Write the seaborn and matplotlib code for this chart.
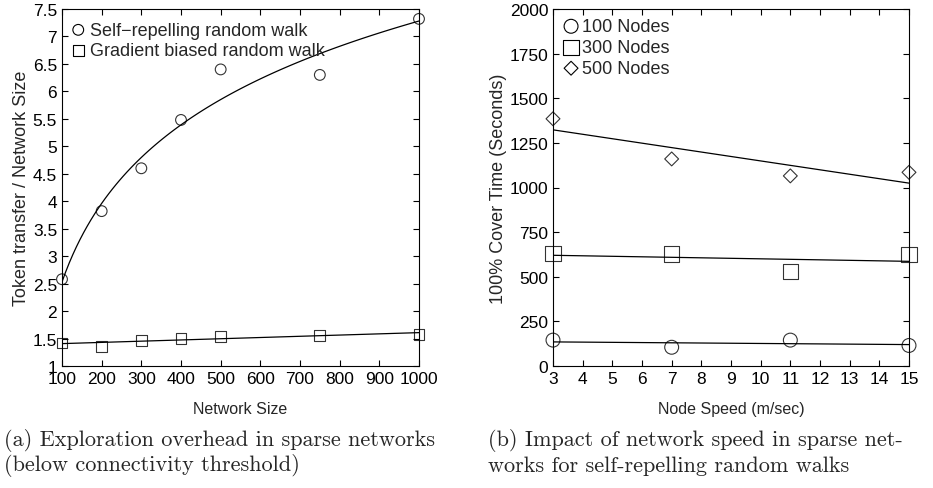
import numpy as np
import pandas as pd
import matplotlib
matplotlib.use("Agg")
import matplotlib.pyplot as plt
import seaborn as sns
from matplotlib.ticker import MultipleLocator

# ---- data (a) ----
net_size = [100, 200, 300, 400, 500, 750, 1000]
self_repelling = [2.58, 3.82, 4.60, 5.48, 6.40, 6.30, 7.32]
gradient_biased = [1.42, 1.36, 1.46, 1.50, 1.54, 1.56, 1.58]

# ---- data (b) ----
node_speed = [3, 7, 11, 15]
nodes_100 = [145, 105, 145, 115]
nodes_300 = [630, 628, 530, 625]
nodes_500 = [1385, 1160, 1065, 1085]

sns.set_style("ticks")
plt.rcParams['font.family'] = ['Liberation Sans', 'DejaVu Sans']
plt.rcParams['axes.linewidth'] = 0.8
plt.rcParams['xtick.direction'] = 'in'
plt.rcParams['ytick.direction'] = 'in'
plt.rcParams['xtick.top'] = True
plt.rcParams['ytick.right'] = True

fig = plt.figure(figsize=(9.33, 4.89), dpi=100)
ax1 = fig.add_axes([62/933, 1-367/489, 357/933, 357/489])
ax2 = fig.add_axes([553/933, 1-367/489, 356/933, 357/489])

dfa = pd.DataFrame({"size": net_size, "srw": self_repelling, "gbw": gradient_biased})
mk = dict(facecolors='none', edgecolors='black', linewidths=0.8, s=60, zorder=3, clip_on=False)
lk = dict(color='black', linewidth=0.9)

sns.regplot(data=dfa, x="size", y="srw", logx=True, ci=None, ax=ax1,
            marker='o', scatter_kws=mk, line_kws=lk)
sns.regplot(data=dfa, x="size", y="gbw", ci=None, ax=ax1,
            marker='s', scatter_kws=mk, line_kws=lk)

ax1.set_xlim(100, 1000)
ax1.set_ylim(1, 7.5)
ax1.set_xticks(np.arange(100, 1001, 100))
ax1.yaxis.set_major_locator(MultipleLocator(0.5))
ax1.yaxis.set_major_formatter(plt.FuncFormatter(lambda v, p: f"{v:g}"))
ax1.set_xlabel("Network Size", fontsize=11.5, labelpad=11)
ax1.set_ylabel("Token transfer / Network Size", fontsize=13, labelpad=2)

h1 = ax1.scatter([], [], marker='o', facecolors='none', edgecolors='black', s=60, linewidths=0.8)
h2 = ax1.scatter([], [], marker='s', facecolors='none', edgecolors='black', s=60, linewidths=0.8)
ax1.legend([h1, h2], ["Self\u2212repelling random walk", "Gradient biased random walk"],
           loc='upper left', frameon=False, fontsize=13, handletextpad=0.15,
           borderaxespad=0.0, labelspacing=0.2, handlelength=1.0,
           bbox_to_anchor=(0.0, 0.985))

dfb = pd.DataFrame({"speed": node_speed, "n100": nodes_100, "n300": nodes_300, "n500": nodes_500})
specs = [("n100", 'o', 100), ("n300", 's', 120), ("n500", 'D', 50)]
for col, m, s in specs:
    kw = dict(mk); kw['s'] = s
    sns.regplot(data=dfb, x="speed", y=col, ci=None, ax=ax2, marker=m,
                scatter_kws=kw, line_kws=lk)

ax2.set_xlim(3, 15)
ax2.set_ylim(0, 2000)
ax2.set_xticks(np.arange(3, 16, 1))
ax2.yaxis.set_major_locator(MultipleLocator(250))
ax2.set_xlabel("Node Speed (m/sec)", fontsize=11.5, labelpad=11)
ax2.set_ylabel("100% Cover Time (Seconds)", fontsize=13, labelpad=2)
hb = [ax2.scatter([], [], marker=m, facecolors='none', edgecolors='black', s=s, linewidths=0.8)
      for _, m, s in specs]
ax2.legend(hb, ["100 Nodes", "300 Nodes", "500 Nodes"], loc='upper left', frameon=False,
           fontsize=13, handletextpad=0.0, borderaxespad=0.0, labelspacing=0.22,
           handlelength=1.2, bbox_to_anchor=(0.0, 0.995))

for ax in (ax1, ax2):
    ax.tick_params(labelsize=12.5, length=4, width=0.8, colors='black')
    for sp in ax.spines.values():
        sp.set_visible(True)
        sp.set_color('black')

cap = dict(family='cmr10', fontsize=16, va='center', ha='left')
fig.text(4/933, 1-441/489, "(a) Exploration overhead in sparse networks", **cap)
fig.text(4/933, 1-466/489, "(below connectivity threshold)", **cap)
fig.text(488/933, 1-441/489, "(b) Impact of network speed in sparse net-", **cap)
fig.text(488/933, 1-466/489, "works for self-repelling random walks", **cap)

fig.savefig("out.png", dpi=100)
